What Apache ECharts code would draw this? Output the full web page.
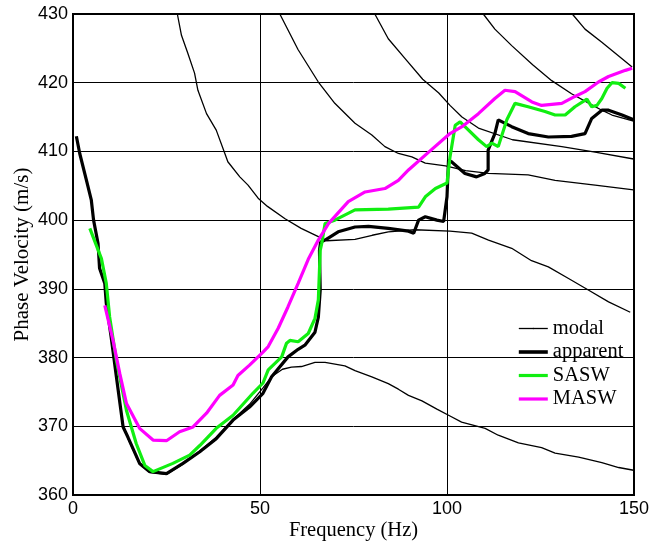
<!DOCTYPE html>
<html>
<head>
<meta charset="utf-8">
<script src="https://cdn.jsdelivr.net/npm/echarts@6/dist/echarts.min.js"></script>
<style>
  html, body { margin: 0; padding: 0; background: #fff; }
  #chart { width: 651px; height: 543px; }
</style>
</head>
<body>
<div id="chart"></div>
<script>
// [frequency Hz, phase velocity m/s]
const mode0 = [[0.9,412.0],[1.8,409.7],[3.6,405.8],[4.9,402.9],[5.5,400.0],[6.7,396.6],[7.1,393.0],[8.5,390.8],[8.9,387.9],[10.2,383.0],[11.6,377.2],[13.4,370.2],[14.7,368.2],[17.8,364.5],[20.5,363.3],[25.0,363.0],[29.4,364.5],[33.9,366.4],[38.3,368.4],[42.8,371.0],[47.2,373.2],[50.8,375.6],[53.1,377.2],[56.0,378.3],[58.4,378.6],[61.1,378.7],[64.7,379.3],[67.4,379.3],[72.7,378.8],[75.4,378.1],[79.9,377.2],[84.3,376.2],[87.0,375.4],[89.7,374.5],[93.3,373.7],[97.3,372.5],[100.8,371.5],[103.9,370.6],[110.2,369.7],[113.7,368.7],[119.1,367.6],[125.3,366.9],[128.9,366.1],[135.2,365.5],[141.4,364.7],[145.9,364.0],[149.9,363.6]];
const mode1 = [[27.9,430],[29.0,426.9],[30.7,424.3],[32.5,421.4],[33.4,418.9],[35.7,415.5],[38.3,413.1],[40.6,409.7],[41.4,408.5],[44.6,406.3],[46.8,405.1],[49.5,403.2],[52.0,402.0],[56.7,400.2],[61.0,398.8],[65.6,397.6],[67.8,397.0],[75.4,397.2],[80.0,397.8],[84.3,398.3],[91.4,398.6],[100.8,398.4],[106.6,398.1],[111.1,397.1],[117.3,395.9],[122.6,394.1],[127.1,393.2],[132.5,391.5],[137.9,389.8],[143.2,388.1],[149.0,386.6]];
const mode2 = [[55.3,430],[60.2,424.8],[65.6,420.1],[70.0,417.0],[75.4,414.1],[79.9,412.4],[83.4,410.7],[87.0,409.7],[90.6,409.2],[94.2,408.3],[99.6,407.9],[105.0,407.2],[111.1,406.8],[121.7,406.6],[128.9,405.8],[139.6,405.1],[149.9,404.4]];
const mode3 = [[80.7,430],[84.3,426.4],[88.8,423.5],[93.5,420.5],[97.8,418.5],[100.8,416.7],[104.0,415.0],[108.4,413.4],[117.5,411.7],[130.7,410.7],[139.6,409.9],[149.9,408.9]];
const mode4 = [[109.7,430],[112.8,427.8],[117.3,425.4],[122.9,422.6],[128.0,420.3],[133.3,418.4],[138.0,417.0],[141.4,416.0],[144.1,415.3],[149.9,414.4]];
const mode5 = [[133.5,430],[136.9,427.8],[141.4,425.9],[145.9,423.9],[149.5,422.3]];

const apparent = [[0.9,412.2],[1.8,409.7],[3.6,405.8],[4.9,402.9],[5.5,400.0],[6.7,396.6],[7.1,393.0],[8.5,390.8],[8.9,387.9],[10.2,383.0],[11.6,377.2],[13.4,369.9],[14.7,368.4],[17.8,364.6],[20.5,363.4],[25.0,363.1],[29.4,364.6],[33.9,366.3],[38.3,368.2],[42.8,370.9],[47.2,372.8],[50.8,374.8],[53.1,377.2],[57.5,380.1],[60.2,381.2],[62.0,381.8],[64.7,383.7],[65.6,385.9],[66.1,389.8],[65.9,395.6],[66.2,396.8],[67.4,397.1],[70.9,398.3],[75.4,399.0],[79.0,399.1],[84.3,398.8],[89.7,398.4],[91.1,398.1],[92.4,400.0],[94.2,400.5],[97.3,400.0],[99.1,399.8],[100.0,403.4],[100.4,408.7],[101.2,408.5],[104.8,406.8],[107.9,406.3],[110.1,406.8],[111.0,407.3],[111.0,410.2],[111.9,411.4],[112.8,412.6],[113.7,414.6],[117.3,413.6],[121.7,412.6],[127.1,412.1],[133.3,412.2],[136.9,412.6],[138.7,414.8],[141.4,416.0],[143.2,416.0],[146.8,415.3],[149.9,414.6]];

const sasw = [[4.5,398.8],[7.6,394.4],[8.9,390.8],[9.8,385.9],[11.6,379.6],[14.3,372.3],[16.9,367.5],[19.2,364.3],[21.4,363.4],[26.7,364.6],[31.2,365.8],[33.9,367.2],[38.3,369.7],[42.8,371.6],[48.1,374.8],[50.8,376.3],[52.2,378.2],[55.8,380.1],[57.1,382.1],[58.0,382.5],[60.2,382.3],[62.9,383.5],[64.7,385.7],[65.6,388.4],[66.1,395.6],[66.5,396.6],[67.4,399.5],[70.0,400.0],[75.4,401.5],[84.3,401.6],[92.4,401.9],[94.2,403.4],[96.9,404.6],[100.0,405.4],[100.8,409.2],[102.2,413.8],[103.5,414.3],[104.8,413.6],[108.4,411.7],[110.6,410.7],[112.0,411.2],[113.7,410.7],[116.0,414.6],[118.2,417.0],[121.7,416.5],[126.2,415.8],[128.9,415.3],[131.6,415.3],[134.2,416.5],[137.4,417.6],[138.7,416.5],[140.1,416.7],[141.4,417.7],[142.8,419.2],[144.1,420.0],[145.9,419.9],[147.7,419.2]];

const masw = [[8.5,387.6],[10.7,382.5],[12.5,377.7],[14.3,373.3],[17.8,369.7],[21.4,368.0],[25.0,367.9],[28.5,369.2],[32.1,369.9],[35.7,371.9],[39.2,374.5],[42.8,376.0],[44.1,377.4],[47.2,378.9],[50.8,380.8],[52.2,381.6],[54.9,384.3],[57.5,387.4],[60.2,390.8],[62.9,394.3],[65.6,397.1],[68.3,399.5],[73.6,402.7],[78.1,404.1],[83.4,404.6],[87.0,405.8],[89.7,407.3],[95.1,409.9],[100.8,412.6],[104.0,413.6],[108.4,415.5],[112.8,417.7],[115.5,418.9],[118.2,418.7],[122.7,417.2],[125.3,416.7],[130.7,417.0],[134.2,418.0],[136.9,418.7],[140.5,420.1],[143.2,420.9],[147.7,421.8],[149.5,422.1]];

const modes = [mode0, mode1, mode2, mode3, mode4, mode5];

const chart = echarts.init(document.getElementById("chart"));

// 细线: 各阶模态
const modalSeries = modes.map((m) => ({
    name: "modal",
    type: "line",
    data: m,
    symbol: "none",
    lineStyle: { color: "#000", width: 1.3 },
    itemStyle: { color: "#000" },
    z: 2,
}));

const thick = (name, data, color) => ({
    name: name,
    type: "line",
    data: data,
    symbol: "none",
    lineStyle: { color: color, width: 3.2 },
    itemStyle: { color: color },
    z: 3,
});

// 图例: 每项单独指定线宽
const legendItem = (name, color, width) => ({
    name: name,
    itemStyle: { color: color },
    lineStyle: { color: color, width: width },
});

const option = {
    animation: false,
    grid: {
        left: 73,
        right: 17,
        top: 14,
        bottom: 48,
        outerBoundsMode: "none",
        show: true,
        borderColor: "#000",
        borderWidth: 2,
    },
    legend: {
        data: [
            legendItem("modal", "#000", 1.3),
            legendItem("apparent", "#000", 3.6),
            legendItem("SASW", "#11ee11", 3.2),
            legendItem("MASW", "#ff00ff", 3.2),
        ],
        orient: "vertical",
        left: 517,
        top: 318,
        padding: 0,
        itemWidth: 29,
        itemHeight: 2,
        itemGap: 2.5,
        textStyle: {
            fontFamily: "Liberation Serif",
            fontSize: 20.5,
            color: "#000",
        },
    },
    xAxis: {
        type: "value",
        min: 0,
        max: 150,
        interval: 50,
        name: "Frequency (Hz)",
        nameLocation: "middle",
        nameGap: 25,
        nameMoveOverlap: false,
        nameTextStyle: { fontFamily: "Liberation Serif", fontSize: 20.5, color: "#000" },
        axisLine: { lineStyle: { color: "#000", width: 2 } },
        axisTick: { show: false },
        axisLabel: { fontFamily: "Liberation Sans", fontSize: 18, color: "#000", margin: 5 },
        splitLine: { show: true, lineStyle: { color: "#000", width: 1 } },
    },
    yAxis: {
        type: "value",
        min: 360,
        max: 430,
        interval: 10,
        name: "Phase Velocity (m/s)",
        nameLocation: "middle",
        nameGap: 40,
        nameMoveOverlap: false,
        nameTextStyle: { fontFamily: "Liberation Serif", fontSize: 21, color: "#000" },
        axisLine: { show: true, lineStyle: { color: "#000", width: 2 } },
        axisTick: { show: false },
        axisLabel: { fontFamily: "Liberation Sans", fontSize: 18, color: "#000", margin: 5 },
        splitLine: { show: true, lineStyle: { color: "#000", width: 1 } },
    },
    series: [
        ...modalSeries,
        thick("apparent", apparent, "#000"),
        thick("SASW", sasw, "#11ee11"),
        thick("MASW", masw, "#ff00ff"),
    ],
};

chart.setOption(option);
</script>
</body>
</html>
